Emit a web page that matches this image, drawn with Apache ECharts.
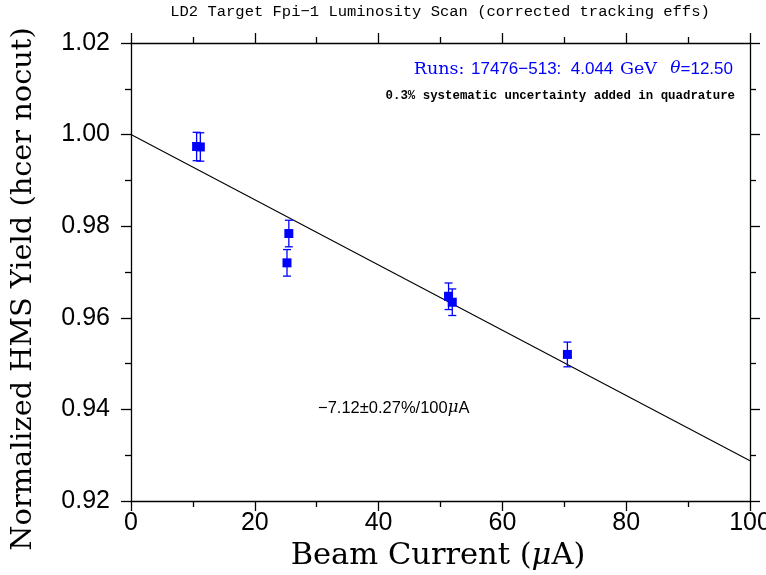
<!DOCTYPE html>
<html><head><meta charset="utf-8">
<script src="https://cdn.jsdelivr.net/npm/echarts@6/dist/echarts.min.js"></script>
<style>html,body{margin:0;padding:0;background:#fff}#c{width:766px;height:575px}</style>
</head><body><div id="c"></div>
<script>
// Data
const current = [10.6, 11.2, 25.5, 25.2, 51.3, 51.9, 70.5];
const yieldVals = [0.9974, 0.9973, 0.9784, 0.9720, 0.9647, 0.9634, 0.9520];
const yieldErr = [0.0031, 0.0031, 0.0029, 0.0029, 0.0029, 0.0029, 0.0027];
const fitX = [0, 100];
const fitY = [1.0000, 0.9288];
const xTicks = [0, 20, 40, 60, 80, 100];
const yTicks = [0.92, 0.94, 0.96, 0.98, 1.00, 1.02];

const chart = echarts.init(document.getElementById('c'), null, {renderer: 'canvas'});
const pts = current.map((x, i) => [x, yieldVals[i], yieldErr[i]]);
const fit = fitX.map((x, i) => [x, fitY[i]]);
const tickFont = {fontFamily: 'Liberation Sans', fontSize: 25, color: '#000'};
const axLine = {show: true, onZero: false, lineStyle: {color: '#000', width: 1.3}};
function xAx(pos, labels) {
  return {type: 'value', position: pos, min: xTicks[0], max: xTicks[xTicks.length-1], interval: 20,
    axisLine: axLine, axisTick: {show: true, length: 10, lineStyle: {color: '#000', width: 1.3}},
    minorTick: {show: true, splitNumber: 2, length: 6, lineStyle: {color: '#000', width: 1.3}},
    splitLine: {show: false}, minorSplitLine: {show: false},
    axisLabel: Object.assign({show: labels, margin: 10}, tickFont)};
}
function yAx(pos, labels) {
  return {type: 'value', position: pos, min: yTicks[0], max: yTicks[yTicks.length-1], interval: 0.02,
    axisLine: axLine, axisTick: {show: true, length: 10, lineStyle: {color: '#000', width: 1.3}},
    minorTick: {show: true, splitNumber: 2, length: 6, lineStyle: {color: '#000', width: 1.3}},
    splitLine: {show: false}, minorSplitLine: {show: false},
    axisLabel: Object.assign({show: labels, margin: 21, formatter: v => v.toFixed(2)}, tickFont)};
}
chart.setOption({
  animation: false,
  backgroundColor: '#fff',
  grid: {left: 131, right: 16, top: 43, bottom: 74, containLabel: false, outerBoundsMode: 'none'},
  xAxis: [xAx('bottom', true), xAx('top', false)],
  yAxis: [yAx('left', true), yAx('right', false)],
  series: [
    {type: 'line', data: fit, symbol: 'none', lineStyle: {color: '#000', width: 1.1}, z: 2},
    {type: 'custom', data: pts, z: 3,
      renderItem: function (params, api) {
        const x = api.value(0), y = api.value(1), e = api.value(2);
        const top = api.coord([x, y + e]), bot = api.coord([x, y - e]);
        const st = {stroke: '#0000ff', lineWidth: 1.3};
        return {type: 'group', children: [
          {type: 'line', shape: {x1: top[0], y1: top[1], x2: bot[0], y2: bot[1]}, style: st},
          {type: 'line', shape: {x1: top[0]-4, y1: top[1], x2: top[0]+4, y2: top[1]}, style: st},
          {type: 'line', shape: {x1: bot[0]-4, y1: bot[1], x2: bot[0]+4, y2: bot[1]}, style: st}
        ]};
      }},
    {type: 'scatter', data: pts.map(p => [p[0], p[1]]), symbol: 'rect', symbolSize: 9,
      itemStyle: {color: '#0000ff', opacity: 1}, z: 4}
  ],
  graphic: [
    {type: 'text', x: 440, y: 12, style: {text: 'LD2 Target Fpi\u22121 Luminosity Scan (corrected tracking effs)',
      align: 'center', verticalAlign: 'middle', font: '15.5px "Liberation Mono"', fill: '#000'}},
    {type: 'text', x: 733, y: 69, style: {
      text: '{s|Runs:}  {n|17476\u2212513:  4.044}  {s|GeV}    {i|\u03b8}{n|=12.50}',
      align: 'right', verticalAlign: 'middle',
      rich: {s: {font: '17.5px "DejaVu Serif"', fill: '#0000ff'}, n: {font: '17px "Liberation Sans"', fill: '#0000ff'},
             i: {font: 'italic 17px "DejaVu Serif"', fill: '#0000ff'}}}},
    {type: 'text', x: 735, y: 96, style: {text: '0.3% systematic uncertainty added in quadrature',
      align: 'right', verticalAlign: 'middle', font: 'bold 12.4px "Liberation Mono"', fill: '#000'}},
    {type: 'text', x: 318, y: 408, style: {text: '\u22127.12\u00b10.27%/100{m|\u03bc}A', verticalAlign: 'middle',
      font: '16.5px "Liberation Sans"', fill: '#000', rich: {m: {font: 'italic 16.5px "DejaVu Serif"', fill: '#000'}}}},
    {type: 'text', x: 438, y: 556, style: {text: 'Beam Current ({m|\u03bc}A)', align: 'center', verticalAlign: 'middle',
      font: '30.5px "DejaVu Serif"', fill: '#000', rich: {m: {font: 'italic 30.5px "DejaVu Serif"', fill: '#000'}}}},
    {type: 'text', x: 24, y: 289, rotation: Math.PI / 2, style: {text: 'Normalized HMS Yield (hcer nocut)',
      align: 'center', verticalAlign: 'middle', font: '28.8px "DejaVu Serif"', fill: '#000'}}
  ]
});
</script></body></html>
